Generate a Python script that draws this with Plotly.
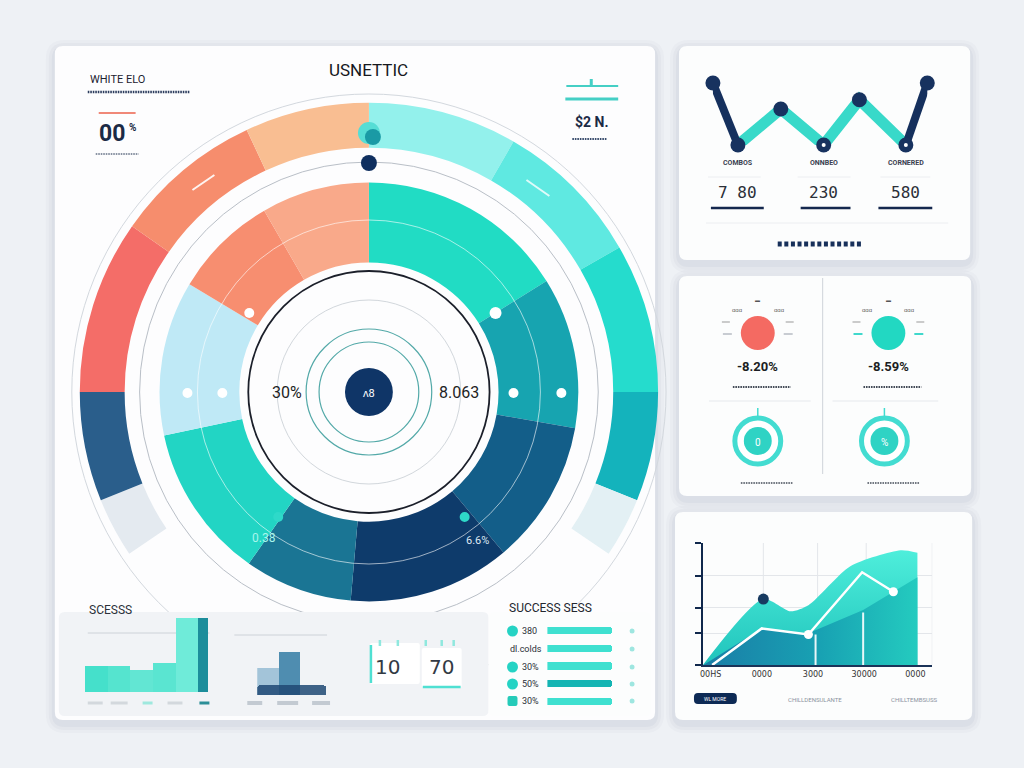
import plotly.graph_objects as go

W, H = 1024, 768
def X(p): return p / W
def Y(p): return 1 - p / H

# ---------------- data ----------------
outer_labels = ["cy1", "cy2", "cy3", "teal", "pale1", "gap", "pale2", "navy", "red", "orange", "peach"]
outer_values = [30, 30, 30, 22, 12, 112, 12, 22, 35, 30, 25]
outer_colors = ["#93f1ec", "#5fe9e1", "#25dccd", "#14b3bc", "#e3f0f4", "rgba(0,0,0,0)",
                "#e4eaf0", "#2a5e8b", "#f46d68", "#f68d6d", "#f9be92"]

inner_labels = ["green", "teal", "deep", "navy", "blue", "aqua", "sky", "salmon", "apricot"]
inner_values = [58, 42, 40, 45, 30, 43, 43, 29, 30]
inner_colors = ["#21dcc4", "#17a4b0", "#135e89", "#0e3b6b", "#1a7594", "#22d5c4",
                "#bfe9f6", "#f78e70", "#f9a98a"]

center_value = "ʌ8"
ring_left_label = "30%"
ring_right_label = "8.063"
ring_low_left = "0.38"
ring_low_right = "6.6%"

zig_x = [0, 0.7, 1.9, 3.1, 4.1, 5.4, 6.0]
zig_y = [100, 0, 58, 0, 73, 0, 100]
zig_names = ["COMBOS", "ONNBEO", "CORNERED"]
zig_totals = ["7 80", "230", "580"]

kpi_values = ["-8.20%", "-8.59%"]
kpi_colors = ["#f46a62", "#22d8c2"]
kpi_ring_text = ["0", "%"]

area_ticks = ["00HS", "0000", "3000", "30000", "0000"]
area_tick_pos = [0, 1, 2, 3, 4]
area_back_x = [-0.15, 1.03, 1.56, 1.91, 2.73, 3.71, 4.04]
area_back_y = [0, 54, 44, 49, 81, 94, 92]
area_front_x = [-0.14, 1.0, 1.85, 2.98, 4.04]
area_front_y = [0, 30, 25, 45, 72]
area_line_x = [0.03, 1.0, 1.91, 2.96, 3.57]
area_line_y = [0, 30, 25, 76, 60]
area_peak_x, area_peak_y = [1.03], [54]
area_ytick = [0, 26, 47, 73, 100]
area_vgrid = [1.03, 2.09, 3.04, 4.33]

bars1_x = [0, 1, 2, 3, 4, 4.72]
bars1_w = [1, 1, 1, 1, 1, 0.44]
bars1_y = [26, 26, 22, 29, 74, 74]
bars1_colors = ["#45e0cb", "#55e4cf", "#62e6d3", "#5ae5d1", "#6febd9", "#1c8d9b"]

bars2_x = [0, 1]
bars2_y = [27, 43]
bars2_colors = ["#a3c4d9", "#4f8db0"]
bars2_base = [10]

card_values = ["10", "70"]

success_title = "SUCCESS SESS"
success_labels = ["380", "dl.colds", "30%", "50%", "30%"]
success_values = [100, 100, 100, 100, 100]
success_colors = ["#3fe0d0", "#3fe0d0", "#3fe0d0", "#14b4b3", "#3fe0d0"]

FONT = "Roboto, Arial, sans-serif"

# ---------------- helpers ----------------
shapes = []
annotations = []

def rrect(x0, y0, x1, y1, r, fill, line=None, layer="below"):
    p = (f"M {X(x0+r)},{Y(y0)} L {X(x1-r)},{Y(y0)} Q {X(x1)},{Y(y0)} {X(x1)},{Y(y0+r)} "
         f"L {X(x1)},{Y(y1-r)} Q {X(x1)},{Y(y1)} {X(x1-r)},{Y(y1)} "
         f"L {X(x0+r)},{Y(y1)} Q {X(x0)},{Y(y1)} {X(x0)},{Y(y1-r)} "
         f"L {X(x0)},{Y(y0+r)} Q {X(x0)},{Y(y0)} {X(x0+r)},{Y(y0)} Z")
    shapes.append(dict(type="path", xref="paper", yref="paper", path=p, fillcolor=fill,
                       line=dict(width=0 if line is None else 1, color=line or "rgba(0,0,0,0)"),
                       layer=layer))

def card(x0, y0, x1, y1, fill="#fcfdfd"):
    for g, a in [(9, 0.035), (6, 0.045), (3, 0.06)]:
        rrect(x0 - g, y0 - g + 3, x1 + g, y1 + g + 4, 10 + g, f"rgba(110,125,150,{a})")
    rrect(x0, y0, x1, y1, 8, fill)

def circ(cx, cy, r, fill="rgba(0,0,0,0)", line=None, lw=1, layer="above"):
    shapes.append(dict(type="circle", xref="paper", yref="paper",
                       x0=X(cx-r), x1=X(cx+r), y0=Y(cy+r), y1=Y(cy-r),
                       fillcolor=fill, line=dict(color=line or "rgba(0,0,0,0)", width=lw if line else 0),
                       layer=layer))

def ln(x0, y0, x1, y1, color, w=1, dash=None, layer="above"):
    d = dict(color=color, width=w)
    if dash:
        d["dash"] = dash
    shapes.append(dict(type="line", xref="paper", yref="paper",
                       x0=X(x0), x1=X(x1), y0=Y(y0), y1=Y(y1), line=d, layer=layer))

def txt(x, y, s, size=12, color="#222", anchor="center", bold=False, family=FONT):
    annotations.append(dict(xref="paper", yref="paper", x=X(x), y=Y(y),
                            text=(f"<b>{s}</b>" if bold else s), showarrow=False,
                            xanchor=anchor, yanchor="middle",
                            font=dict(size=size, color=color, family=family)))

def dotted(x0, x1, y, color="#3a4a66", w=2.5):
    ln(x0, y, x1, y, color, w, dash="1.6px,0.9px")

# ---------------- cards ----------------
card(52, 46, 654, 720, "#fdfdfe")
card(678, 46, 970, 260)
card(678, 276, 971, 496)
card(674, 512, 972, 720)

# thin decorative circles around the rings (below traces)
circ(367, 392, 298, line="#d3d8de", lw=1, layer="below")
circ(367, 392, 230, line="#b9bfc7", lw=1, layer="below")
# bottom strip of main card
rrect(56, 612, 487, 716, 6, "#f1f3f6")
rrect(487, 612, 650, 716, 6, "#fcfdfd")

# ---------------- header texts (main card) ----------------
txt(85, 80, "WHITE ELO", 11, "#1c2230", "left")
dotted(85, 187, 92, "#2c3d5e", 2.5)
ln(96, 113, 133, 113, "#f08878", 2)
txt(94, 133, "00", 23, "#1b2a45", "left", bold=True)
txt(124, 128, "%", 10, "#1b2a45", "left", bold=True)
dotted(93, 136, 154, "#8a93a3", 2)
txt(367, 70, "USNETTIC", 17, "#16181d")
ln(565, 86, 617, 86, "#45cfc5", 2)
ln(590, 79, 590, 86, "#45cfc5", 3)
ln(564, 99, 617, 99, "#45cfc5", 3)
txt(590, 122, "$2 N.", 14, "#1b2a45", bold=True)
dotted(571, 606, 139, "#3a4d6e", 2)

# ---------------- ring decorations ----------------
circ(367, 133, 11, fill="#56ddd5")
circ(371, 137, 8, fill="#1a9aa5")
circ(367, 163, 8, fill="#0f2f5f")
circ(367, 392, 172, line="rgba(255,255,255,0.6)", lw=1)
circ(367, 392, 121, line="#1b1f2a", lw=1.8)
circ(367, 392, 92, line="#d2d7dc", lw=1)
circ(367, 392, 63, line="#53a9a8", lw=1.2)
circ(367, 392, 50, line="#53a9a8", lw=1.2)
circ(367, 392, 24, fill="#0f3567")
for (cx, cy, r) in [(185, 393, 5), (220, 393, 5), (512, 393, 5), (560, 393, 5), (247, 313, 5), (494, 313, 6)]:
    circ(cx, cy, r, fill="#ffffff")
circ(276, 517, 5, fill="#2ed9c9")
circ(463, 517, 5, fill="#2ed9c9")
ln(190, 190, 212, 175, "rgba(255,255,255,0.9)", 2)
ln(525, 180, 548, 196, "rgba(255,255,255,0.8)", 2)
txt(367, 393, center_value, 11, "#ffffff")
txt(285, 392, ring_left_label, 16, "#1d1f24")
txt(457, 392, ring_right_label, 16, "#1d1f24")
txt(262, 538, ring_low_left, 12, "#a8f6ec")
txt(476, 540, ring_low_right, 11, "#dfe9f3")

# ---------------- right-top card texts ----------------
ln(707, 177, 760, 177, "#eceef1", 1)
ln(797, 177, 850, 177, "#eceef1", 1)
ln(880, 177, 930, 177, "#eceef1", 1)
ln(705, 223, 948, 223, "#eceef1", 1)
for i, (nm, tot) in enumerate(zip(zig_names, zig_totals)):
    xv = zig_x[1 + 2 * i]
    annotations.append(dict(xref="x2", yref="paper", x=xv, y=Y(163), text=f"<b>{nm}</b>",
                            showarrow=False, xanchor="center", yanchor="middle",
                            font=dict(size=7, color="#3a4150", family=FONT)))
    annotations.append(dict(xref="x2", yref="paper", x=xv, y=Y(193), text=tot,
                            showarrow=False, xanchor="center", yanchor="middle",
                            font=dict(size=16, color="#2b2f38", family="DejaVu Sans Mono")))
for (a, b) in [(710, 763), (800, 850), (878, 932)]:
    ln(a, 208, b, 208, "#14284e", 2.5)
ln(777, 244, 862, 244, "#17305a", 5, dash="4px,2.6px")

# ---------------- right-middle card ----------------
ln(822, 278, 822, 474, "#d6dadf", 1.2)
ln(708, 401, 810, 401, "#e6e9ed", 1)
ln(832, 401, 938, 401, "#e6e9ed", 1)
for cx, ringx, val, col, rt, side in zip([757, 888], [757, 884], kpi_values, kpi_colors, kpi_ring_text, ["#c8ccd2", "#40d8cc"]):
    circ(cx, 333, 17, fill=col)
    txt(cx, 300, "▬", 5, "#555")
    txt(cx - 21, 310, "ɑɑɑ", 6, "#666")
    txt(cx + 21, 310, "ɑɑɑ", 6, "#666")
    ln(cx - 36, 322, cx - 28, 322, "#999", 1)
    ln(cx + 28, 322, cx + 36, 322, "#999", 1)
    ln(cx - 35, 334, cx - 26, 334, side, 2)
    ln(cx + 26, 334, cx + 35, 334, side, 2)
    txt(cx, 366, val, 13, "#1b1d22", bold=True)
    dotted(cx - 25, cx + 33, 387, "#444c58", 2)
    ln(ringx, 408, ringx, 417, "#40dcd0", 1.5)
    circ(ringx, 441, 23, fill="#ffffff", line="#43dcd1", lw=5)
    circ(ringx, 441, 14, fill="#2fd3c4")
    txt(ringx, 442, rt, 10, "#ffffff")
    dotted(ringx - 17, ringx + 35, 483, "#444c58", 1.6)

# ---------------- right-bottom card extras ----------------
for xv in area_vgrid:
    shapes.append(dict(type="line", xref="x4", yref="y4", x0=xv, x1=xv, y0=0, y1=100,
                       line=dict(color="#e3e6ea", width=1), layer="below"))
rrect(693, 693, 736, 704, 4, "#0d2a55", layer="above")
txt(714.5, 698.5, "WL MORE", 5, "#ffffff")
txt(814, 699, "CHILLDENSULANTE", 6, "#8b93a0")
txt(914, 699, "CHILLTEMBSUSS", 6, "#8b93a0")

# ---------------- bottom strip decorations ----------------
txt(84, 610, "SCESSS", 12, "#2c313a", "left")
ln(85, 633, 207, 633, "#cdd2d8", 1, layer="below")
ln(232, 635, 325, 635, "#cdd2d8", 1, layer="below")
for (a, b, c) in [(85, 100, "#d3d8dd"), (108, 125, "#d3d8dd"), (140, 150, "#9fe8de"), (165, 180, "#d3d8dd"), (197, 207, "#2c8f98")]:
    ln(a, 703, b, 703, c, 3)
for (a, b) in [(245, 260), (275, 296), (310, 328)]:
    ln(a, 703, b, 703, "#c3cad2", 4)
# calendar cards
rrect(368, 643, 418, 684, 2, "#ffffff", layer="above")
ln(369, 645, 369, 683, "#4fe0d2", 2.5)
rrect(420, 648, 460, 688, 2, "#ffffff", layer="above")
ln(421, 687, 459, 687, "#4fe0d2", 2.5)
for xx in [378, 396, 424, 440, 452]:
    ln(xx, 640, xx, 646, "#8fe8de", 2.5)
txt(386, 667, card_values[0], 20, "#333a44", family="DejaVu Sans")
txt(440, 667, card_values[1], 20, "#333a44", family="DejaVu Sans")
# success list
txt(505, 608, success_title, 12, "#23272e", "left")
rows_y = [631, 649, 667, 684, 701]
for i, (yy, lab) in enumerate(zip(rows_y, success_labels)):
    if i == 1:
        txt(506, yy, lab, 9, "#2a2f38", "left")
    else:
        if i == 4:
            rrect(506, yy - 5, 516, yy + 5, 2, "#25cbb9", layer="above")
        else:
            circ(511, yy, 5.5, fill="#25d3c4")
        txt(519, yy, lab, 9, "#2a2f38", "left")
    circ(631, yy, 2.5, fill="#9ee6e0")

# ---------------- traces ----------------
fig = go.Figure()

fig.add_trace(go.Pie(labels=outer_labels, values=outer_values, hole=245 / 290, sort=False,
                     direction="clockwise", rotation=0, textinfo="none", hoverinfo="skip",
                     marker=dict(colors=outer_colors, line=dict(width=0)),
                     domain=dict(x=[X(77), X(657)], y=[Y(682), Y(102)]), showlegend=False))
fig.add_trace(go.Pie(labels=inner_labels, values=inner_values, hole=130 / 210, sort=False,
                     direction="clockwise", rotation=0, textinfo="none", hoverinfo="skip",
                     marker=dict(colors=inner_colors, line=dict(width=0)),
                     domain=dict(x=[X(157), X(577)], y=[Y(602), Y(182)]), showlegend=False))

# zigzag line chart
fig.add_trace(go.Scatter(x=zig_x[1:6], y=zig_y[1:6], mode="lines", xaxis="x2", yaxis="y2",
                         line=dict(color="rgba(28,212,194,0.88)", width=11), cliponaxis=False, hoverinfo="skip"))
fig.add_trace(go.Scatter(x=zig_x[0:2] + [None] + zig_x[5:7], y=zig_y[0:2] + [None] + zig_y[5:7],
                         mode="lines", xaxis="x2", yaxis="y2",
                         line=dict(color="#15305d", width=8), cliponaxis=False, hoverinfo="skip"))
fig.add_trace(go.Scatter(x=zig_x, y=zig_y, mode="markers", xaxis="x2", yaxis="y2",
                         marker=dict(color="#17325f", size=15), cliponaxis=False, hoverinfo="skip"))
fig.add_trace(go.Scatter(x=[zig_x[3], zig_x[5]], y=[zig_y[3], zig_y[5]], mode="markers", xaxis="x2", yaxis="y2",
                         marker=dict(color="#ffffff", size=4), cliponaxis=False, hoverinfo="skip"))

# area chart
fig.add_trace(go.Scatter(x=area_back_x, y=area_back_y, mode="lines", fill="tozeroy", xaxis="x4", yaxis="y4",
                         line=dict(width=0, shape="spline", smoothing=0.7),
                         fillgradient=dict(type="vertical", colorscale=[[0, "#20c4bc"], [1, "#4eeedb"]]),
                         hoverinfo="skip"))
fig.add_trace(go.Scatter(x=area_front_x, y=area_front_y, mode="lines", fill="tozeroy", xaxis="x4", yaxis="y4",
                         line=dict(width=0),
                         fillgradient=dict(type="horizontal", colorscale=[[0, "#1a7da7"], [0.55, "#18a2b3"], [1, "#24cbbf"]]),
                         hoverinfo="skip"))
fig.add_trace(go.Scatter(x=[area_front_x[2] + 0.2, area_front_x[2] + 0.2, None, area_front_x[3], area_front_x[3]],
                         y=[0, area_front_y[2], None, 0, area_front_y[3] - 2], mode="lines",
                         xaxis="x4", yaxis="y4", line=dict(color="rgba(255,255,255,0.9)", width=2), hoverinfo="skip"))
fig.add_trace(go.Scatter(x=area_line_x, y=area_line_y, mode="lines", xaxis="x4", yaxis="y4",
                         line=dict(color="#ffffff", width=2.5), hoverinfo="skip"))
fig.add_trace(go.Scatter(x=[area_line_x[2], area_line_x[4]], y=[area_line_y[2], area_line_y[4]], mode="markers",
                         xaxis="x4", yaxis="y4", marker=dict(color="#ffffff", size=9), cliponaxis=False, hoverinfo="skip"))
fig.add_trace(go.Scatter(x=area_peak_x, y=area_peak_y, mode="markers", xaxis="x4", yaxis="y4",
                         marker=dict(color="#173a60", size=11), cliponaxis=False, hoverinfo="skip"))

# bottom-left bars
fig.add_trace(go.Bar(x=bars1_x, y=bars1_y, width=bars1_w, xaxis="x5", yaxis="y5",
                     marker=dict(color=bars1_colors, line=dict(width=0)), hoverinfo="skip"))
fig.add_trace(go.Bar(x=bars2_x, y=bars2_y, width=[1, 1], xaxis="x6", yaxis="y6",
                     marker=dict(color=bars2_colors, line=dict(width=0)), hoverinfo="skip"))
fig.add_trace(go.Bar(x=[1.1], y=bars2_base, width=[3.2], xaxis="x6", yaxis="y6",
                     marker=dict(color="rgba(30,72,115,0.85)", line=dict(width=0), cornerradius=4), hoverinfo="skip"))

# success progress bars
fig.add_trace(go.Bar(x=success_values, y=list(range(len(success_values))), orientation="h", width=0.4,
                     xaxis="x7", yaxis="y7",
                     marker=dict(color=success_colors, line=dict(width=0), cornerradius=4), hoverinfo="skip"))

hidden = dict(visible=False, fixedrange=True)
fig.update_layout(
    width=W, height=H, margin=dict(l=0, r=0, t=0, b=0),
    paper_bgcolor="#eef1f5", plot_bgcolor="rgba(0,0,0,0)",
    showlegend=False, barmode="overlay", bargap=0,
    font=dict(family=FONT),
    xaxis=dict(visible=False, domain=[0, 0.01]), yaxis=dict(visible=False, domain=[0, 0.01]),
    xaxis2=dict(domain=[X(712), X(927)], range=[0, 6], anchor="y2", **hidden),
    yaxis2=dict(domain=[Y(145), Y(83)], range=[0, 100], anchor="x2", **hidden),
    xaxis4=dict(domain=[X(702), X(932)], range=[-0.15, 4.33], anchor="y4",
                showline=True, linecolor="#1b3358", linewidth=2, showgrid=False, zeroline=False,
                tickvals=area_tick_pos, ticktext=area_ticks, ticks="",
                tickfont=dict(size=8, color="#333", family="DejaVu Sans"), fixedrange=True),
    yaxis4=dict(domain=[Y(665), Y(543)], range=[0, 100], anchor="x4",
                showline=True, linecolor="#10284c", linewidth=2, zeroline=False,
                tickvals=area_ytick, showticklabels=False, ticks="outside", ticklen=6,
                tickcolor="#10284c", tickwidth=2, showgrid=True, gridcolor="#e3e6ea", fixedrange=True),
    xaxis5=dict(domain=[X(82), X(207)], range=[-0.5, 5.0], anchor="y5", **hidden),
    yaxis5=dict(domain=[Y(692), Y(618)], range=[0, 74], anchor="x5", **hidden),
    xaxis6=dict(domain=[X(255), X(324)], range=[-0.5, 2.7], anchor="y6", **hidden),
    yaxis6=dict(domain=[Y(695), Y(650)], range=[0, 45], anchor="x6", **hidden),
    xaxis7=dict(domain=[X(546), X(611)], range=[0, 100], anchor="y7", **hidden),
    yaxis7=dict(domain=[Y(710), Y(622)], range=[4.5, -0.5], anchor="x7", **hidden),
    shapes=shapes, annotations=annotations,
)

fig.write_html("out.html")
